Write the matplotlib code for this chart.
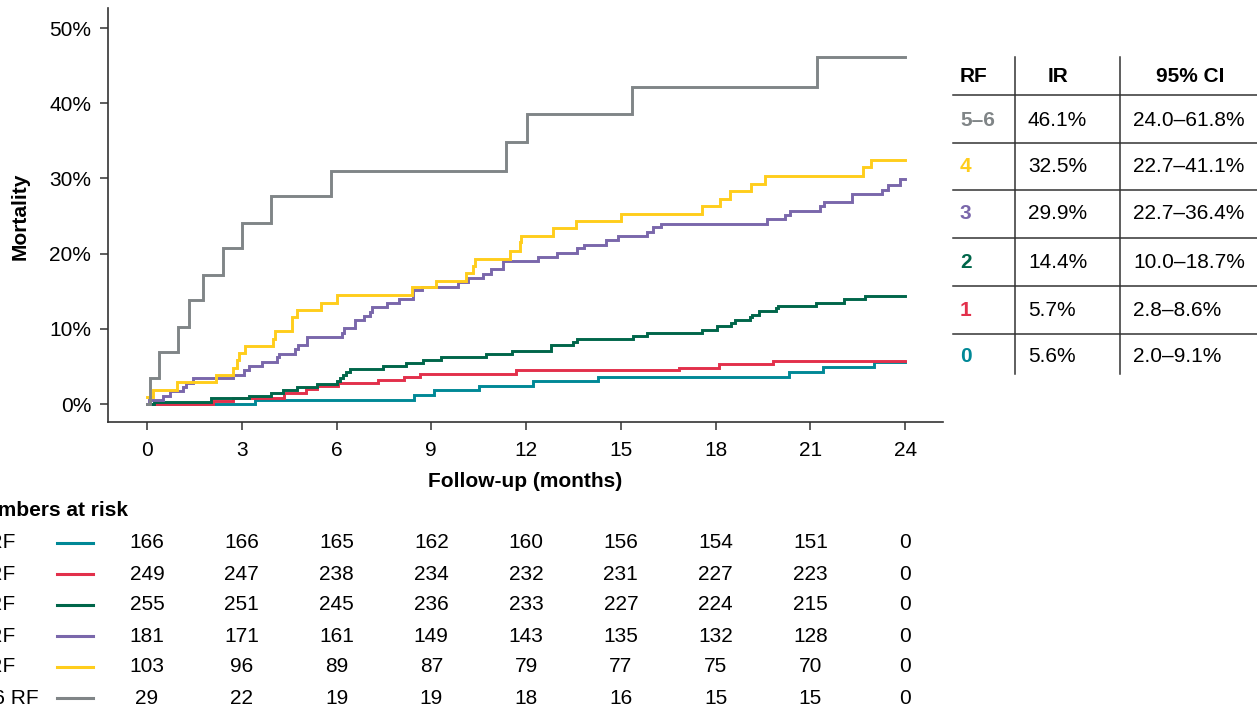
import matplotlib
matplotlib.use("Agg")
import matplotlib.pyplot as plt
from matplotlib.lines import Line2D
from matplotlib import transforms

plt.rcParams['font.family'] = ['Liberation Sans', 'DejaVu Sans']

# ---------------- data ----------------
groups = ["0 RF", "1 RF", "2 RF", "3 RF", "4 RF", "5\u20136 RF"]
colors = ["#008896", "#e2304b", "#00664a", "#7a67ab", "#ffcd1c", "#808587"]

t0 = [0, 3.42, 8.46, 9.09, 10.52, 12.23, 14.27, 20.34, 21.41, 23.0, 24]
y0 = [0, 0.5, 1.2, 1.9, 2.4, 3.1, 3.6, 4.3, 4.9, 5.6, 5.6]

t1 = [0, 2.08, 2.73, 4.34, 5.02, 5.37, 6.06, 7.32, 8.15, 8.65, 11.69, 16.84, 18.11, 19.83, 24]
y1 = [0, 0.4, 0.8, 1.4, 1.95, 2.4, 2.75, 3.2, 3.6, 4.0, 4.5, 4.8, 5.3, 5.7, 5.7]

t2 = [0, 0.22, 2.03, 3.23, 3.92, 4.30, 4.74, 5.37, 6.03, 6.11, 6.22, 6.30, 6.43, 7.46, 8.20,
      8.73, 9.30, 10.72, 11.57, 12.79, 13.50, 13.62, 15.40, 15.82, 17.58, 18.06, 18.49,
      18.62, 19.09, 19.15, 19.38, 19.92, 19.99, 21.17, 22.05, 22.73, 24]
y2 = [0, 0.3, 0.75, 1.1, 1.5, 1.9, 2.2, 2.6, 3.0, 3.4, 3.9, 4.3, 4.7, 5.1, 5.5,
      5.9, 6.2, 6.6, 7.1, 7.8, 8.3, 8.7, 9.1, 9.5, 9.9, 10.4, 10.8,
      11.2, 11.6, 11.9, 12.4, 12.8, 13.1, 13.5, 14.0, 14.4, 14.4]

t3 = [0, 0.05, 0.50, 0.73, 1.13, 1.23, 1.45, 2.73, 3.08, 3.24, 3.63, 4.11, 4.18, 4.69, 4.77,
      5.08, 6.18, 6.24, 6.59, 6.88, 7.06, 7.11, 7.61, 7.99, 8.43, 8.70, 9.86, 10.17, 10.65,
      10.88, 11.28, 12.39, 12.99, 13.62, 13.85, 14.53, 14.92, 15.84, 16.03, 16.27, 19.64,
      20.20, 20.36, 21.31, 21.44, 22.33, 23.28, 23.45, 23.84, 24]
y3 = [0, 0.55, 1.1, 1.7, 2.2, 2.8, 3.4, 3.9, 4.5, 5.0, 5.6, 6.2, 6.7, 7.3, 7.8,
      8.9, 9.5, 10.1, 11.2, 11.7, 12.3, 12.9, 13.4, 14.0, 15.1, 15.6, 16.2, 16.8, 17.3,
      17.9, 19.0, 19.6, 20.1, 20.7, 21.2, 21.8, 22.3, 22.9, 23.5, 24.0, 24.6,
      25.1, 25.7, 26.3, 26.8, 27.9, 28.5, 29.1, 29.9, 29.9]

t4 = [0, 0.20, 0.96, 2.18, 2.71, 2.84, 2.92, 3.10, 4.00, 4.04, 4.58, 4.76, 5.50, 6.03, 8.38,
      9.15, 10.10, 10.31, 10.39, 11.49, 11.81, 11.85, 12.86, 13.58, 15.0, 17.58, 18.14,
      18.46, 19.12, 19.57, 22.68, 22.92, 24]
y4 = [1.0, 1.9, 2.9, 3.9, 4.8, 5.8, 6.8, 7.7, 8.7, 9.7, 11.6, 12.5, 13.5, 14.5, 15.5,
      16.4, 17.4, 18.4, 19.3, 20.3, 21.5, 22.4, 23.4, 24.4, 25.3, 26.3, 27.3,
      28.3, 29.3, 30.3, 31.5, 32.5, 32.5]

t5 = [0, 0.10, 0.38, 0.99, 1.34, 1.76, 2.42, 3.00, 3.92, 5.82, 11.36, 12.03, 15.36, 21.22, 24]
y5 = [0, 3.4, 6.9, 10.3, 13.8, 17.2, 20.7, 24.1, 27.6, 31.0, 34.9, 38.5, 42.2, 46.1, 46.1]

times = [t0, t1, t2, t3, t4, t5]
values = [y0, y1, y2, y3, y4, y5]

xticks = [0, 3, 6, 9, 12, 15, 18, 21, 24]
yticks = [0, 10, 20, 30, 40, 50]

at_risk = [
    [166, 166, 165, 162, 160, 156, 154, 151, 0],
    [249, 247, 238, 234, 232, 231, 227, 223, 0],
    [255, 251, 245, 236, 233, 227, 224, 215, 0],
    [181, 171, 161, 149, 143, 135, 132, 128, 0],
    [103, 96, 89, 87, 79, 77, 75, 70, 0],
    [29, 22, 19, 19, 18, 16, 15, 15, 0],
]

tbl_rf = ["5\u20136", "4", "3", "2", "1", "0"]
tbl_colors = ["#808587", "#ffcd1c", "#7a67ab", "#00664a", "#e2304b", "#008896"]
tbl_ir = ["46.1%", "32.5%", "29.9%", "14.4%", "5.7%", "5.6%"]
tbl_ci = ["24.0\u201361.8%", "22.7\u201341.1%", "22.7\u201336.4%", "10.0\u201318.7%",
          "2.8\u20138.6%", "2.0\u20139.1%"]

# ---------------- figure ----------------
W, H = 1257, 711
fig = plt.figure(figsize=(W / 100, H / 100), dpi=100)

def fx(px):
    return px / W

def fy(py):
    return 1 - py / H

ax = fig.add_axes([fx(108), fy(422), fx(943) - fx(108), fy(8) - fy(422)])
FS = 15
spine_c = "#333333"

for t, v, c in zip(times, values, colors):
    ax.step(t, v, where="post", color=c, lw=2.1, solid_joinstyle="miter")

ax.set_xlim(-1.235, 25.2)
ax.set_ylim(-2.39, 52.66)
ax.set_xticks(xticks)
ax.set_yticks(yticks)
ax.set_yticklabels([f"{v}%" for v in yticks])
ax.tick_params(axis="both", labelsize=FS, length=6, width=1.1, color=spine_c)
ax.tick_params(axis="y", pad=6)
ax.tick_params(axis="x", pad=8)
for s in ["top", "right"]:
    ax.spines[s].set_visible(False)
for s in ["left", "bottom"]:
    ax.spines[s].set_color(spine_c)
    ax.spines[s].set_linewidth(1.2)

ax.set_xlabel("Follow-up (months)", fontsize=FS, fontweight="bold", labelpad=8)
fig.text(fx(20), fy(216), "Mortality", rotation=90, fontsize=FS, fontweight="bold",
         ha="center", va="center")

# ---------------- numbers at risk ----------------
fig.text(fx(-30), fy(511), "Numbers at risk", fontsize=FS, fontweight="bold",
         ha="left", va="center")
row_y = [543, 574, 605, 636, 667, 698]
blend = transforms.blended_transform_factory(ax.transData, fig.transFigure)
for i, (g, c) in enumerate(zip(groups, colors)):
    yy = fy(row_y[i])
    fig.text(fx(-30), yy, g, fontsize=FS, ha="left", va="center")
    fig.add_artist(Line2D([fx(57), fx(93)], [yy, yy], color=c, lw=2.2,
                          transform=fig.transFigure))
    for xt, n in zip(xticks, at_risk[i]):
        ax.text(xt, yy, str(n), transform=blend, fontsize=FS, ha="center",
                va="center", clip_on=False)

# ---------------- table ----------------
line_c = "#333333"
hlines = [95, 143, 190, 238, 286, 334]
for hy in hlines:
    fig.add_artist(Line2D([fx(953), fx(1260)], [fy(hy), fy(hy)], color=line_c,
                          lw=1.1, transform=fig.transFigure))
for vx in [1015, 1120]:
    fig.add_artist(Line2D([fx(vx), fx(vx)], [fy(57), fy(374)], color=line_c,
                          lw=1.1, transform=fig.transFigure))

fig.text(fx(960), fy(77), "RF", fontsize=FS, fontweight="bold", ha="left", va="center")
fig.text(fx(1058), fy(77), "IR", fontsize=FS, fontweight="bold", ha="center", va="center")
fig.text(fx(1190), fy(77), "95% CI", fontsize=FS, fontweight="bold", ha="center", va="center")
row_c = [120, 167, 214, 262, 310, 357]
for i in range(6):
    yy = fy(row_c[i])
    fig.text(fx(960), yy, tbl_rf[i], fontsize=FS, fontweight="bold",
             color=tbl_colors[i], ha="left", va="center")
    fig.text(fx(1028), yy, tbl_ir[i], fontsize=FS, ha="left", va="center")
    fig.text(fx(1133), yy, tbl_ci[i], fontsize=FS, ha="left", va="center")

fig.savefig("out.png", dpi=100)
